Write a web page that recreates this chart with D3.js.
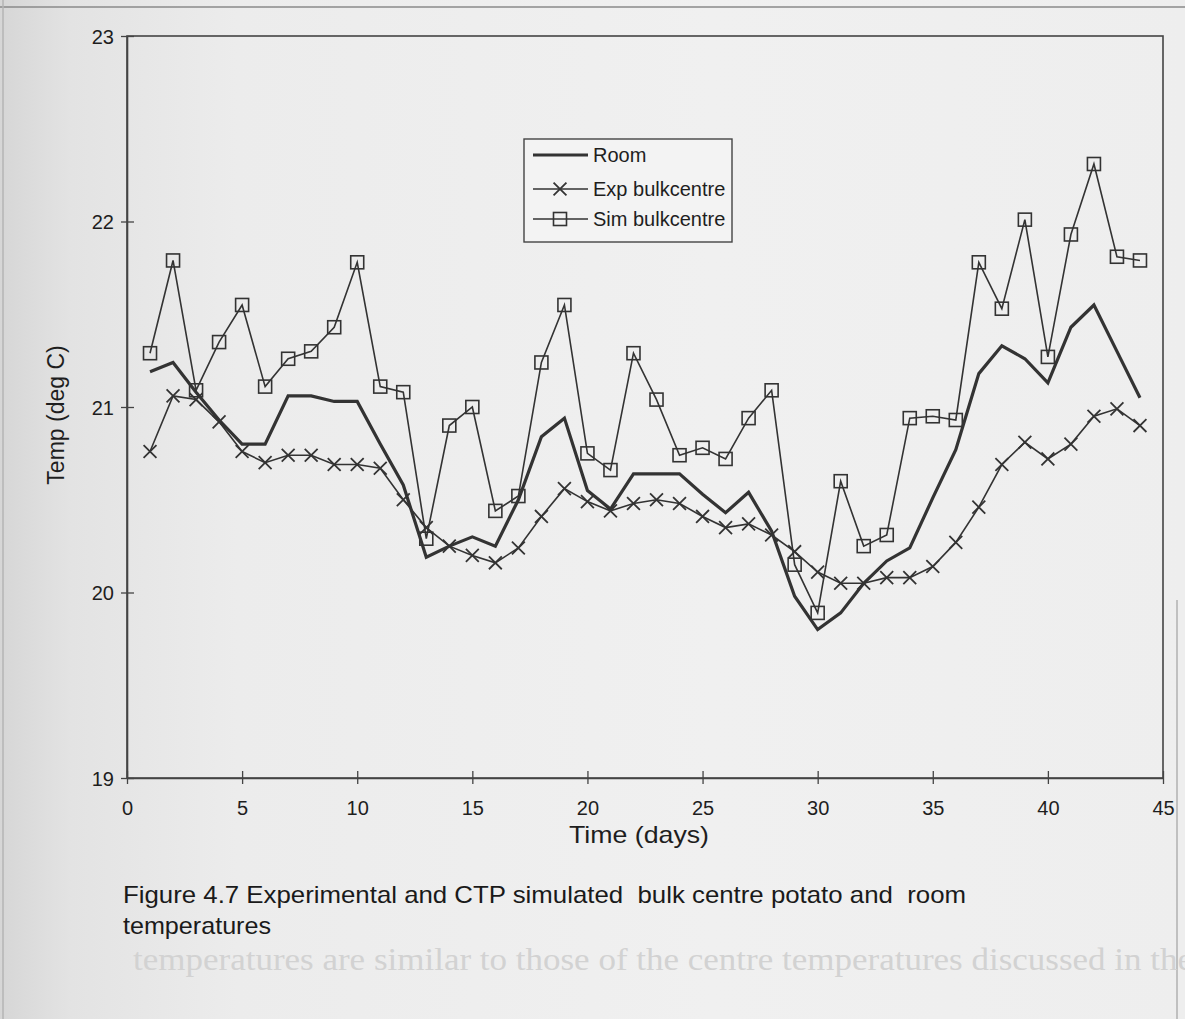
<!DOCTYPE html>
<html>
<head>
<meta charset="utf-8">
<script src="https://cdn.jsdelivr.net/npm/d3@7"></script>
<style>
  html, body { margin: 0; padding: 0; }
  body { width: 1185px; height: 1019px; overflow: hidden; background: #ececec; }
  svg { display: block; }
  text { font-family: "Liberation Sans", Arial, sans-serif; fill: #1e1e1e; }
</style>
</head>
<body>
<svg id="chart" width="1185" height="1019"></svg>
<script>
// Days of the storage trial
const days = [1,2,3,4,5,6,7,8,9,10,11,12,13,14,15,16,17,18,19,20,21,22,
              23,24,25,26,27,28,29,30,31,32,33,34,35,36,37,38,39,40,41,42,43,44];

// Room air temperature (deg C)
const roomTemp = [21.19,21.24,21.08,20.93,20.80,20.80,21.06,21.06,21.03,21.03,20.80,20.58,
                  20.19,20.25,20.30,20.25,20.50,20.84,20.94,20.55,20.45,20.64,20.64,20.64,
                  20.53,20.43,20.54,20.33,19.98,19.80,19.89,20.05,20.17,20.24,20.51,20.77,
                  21.18,21.33,21.26,21.13,21.43,21.55,21.30,21.05];

// Measured bulk centre potato temperature (deg C)
const expBulkCentre = [20.76,21.06,21.04,20.92,20.76,20.70,20.74,20.74,20.69,20.69,20.67,20.50,
                       20.35,20.25,20.20,20.16,20.24,20.41,20.56,20.49,20.44,20.48,20.50,20.48,
                       20.41,20.35,20.37,20.31,20.22,20.11,20.05,20.05,20.08,20.08,20.14,20.27,
                       20.46,20.69,20.81,20.72,20.80,20.95,20.99,20.90];

// CTP simulated bulk centre potato temperature (deg C)
const simBulkCentre = [21.29,21.79,21.09,21.35,21.55,21.11,21.26,21.30,21.43,21.78,21.11,21.08,
                       20.29,20.90,21.00,20.44,20.52,21.24,21.55,20.75,20.66,21.29,21.04,20.74,
                       20.78,20.72,20.94,21.09,20.15,19.89,20.60,20.25,20.31,20.94,20.95,20.93,
                       21.78,21.53,22.01,21.27,21.93,22.31,21.81,21.79];

const xTicks = [0,5,10,15,20,25,30,35,40,45];
const yTicks = [19,20,21,22,23];
const seriesNames = ["Room", "Exp bulkcentre", "Sim bulkcentre"];
const xTitle = "Time (days)";
const yTitle = "Temp (deg C)";
const captionLines = ["Figure 4.7 Experimental and CTP simulated  bulk centre potato and  room",
                      "temperatures"];
const bodyTextLine = "temperatures are similar to those of the centre temperatures discussed in the";

const svg = d3.select("#chart");
const W = 1185, H = 1019;
const plot = { left: 127, right: 1163, top: 36, bottom: 778 };
const ink = "#333";

// Paper background, slightly darker towards the binding edge
const defs = svg.append("defs");
const grad = defs.append("linearGradient").attr("id", "paper")
  .attr("x1", 0).attr("x2", 1).attr("y1", 0).attr("y2", 0);
[[0, "#d6d6d6"], [0.06, "#e3e3e3"], [0.2, "#ececec"], [0.6, "#f0f0f0"], [1, "#eeeeee"]]
  .forEach(([o, c]) => grad.append("stop").attr("offset", o).attr("stop-color", c));
svg.append("rect").attr("width", W).attr("height", H).attr("fill", "url(#paper)");

// Page edges
svg.append("line").attr("x1", 0).attr("x2", W).attr("y1", 7).attr("y2", 7)
  .attr("stroke", "#8a8a8a").attr("stroke-width", 1.5);
svg.append("line").attr("x1", 3).attr("x2", 3).attr("y1", 0).attr("y2", H)
  .attr("stroke", "#b5b5b5").attr("stroke-width", 1.5);
svg.append("line").attr("x1", 1177).attr("x2", 1177).attr("y1", 600).attr("y2", H)
  .attr("stroke", "#b0b0b0").attr("stroke-width", 1.5);

// Faint line of body text below the figure
svg.append("text")
  .attr("x", 133).attr("y", 970)
  .attr("textLength", 1060).attr("lengthAdjust", "spacingAndGlyphs")
  .style("font-family", "'Liberation Serif', 'DejaVu Serif', serif")
  .style("font-size", "32px")
  .style("fill", "#d2d2d2")
  .text(bodyTextLine);

// Scales
const x = d3.scaleLinear().domain([0, 45]).range([plot.left, plot.right]);
const y = d3.scaleLinear().domain([19, 23]).range([plot.bottom, plot.top]);

// Plot frame
svg.append("rect")
  .attr("x", plot.left).attr("y", plot.top)
  .attr("width", plot.right - plot.left).attr("height", plot.bottom - plot.top)
  .attr("fill", "none").attr("stroke", "#444").attr("stroke-width", 1.6);

// Axes: ticks straddle the axis line
const xAxis = svg.append("g").attr("transform", `translate(0,${plot.bottom})`)
  .call(d3.axisBottom(x).tickValues(xTicks).tickFormat(d3.format("d"))
        .tickSizeInner(0).tickSizeOuter(0).tickPadding(0));
xAxis.select(".domain").attr("stroke", "#444").attr("stroke-width", 1.6);
xAxis.selectAll(".tick line").attr("y1", -7).attr("y2", 6).attr("stroke", "#444").attr("stroke-width", 1.3);
xAxis.selectAll(".tick text").attr("y", 37).attr("dy", null)
  .style("font-size", "20px").style("fill", "#1e1e1e");

const yAxis = svg.append("g").attr("transform", `translate(${plot.left},0)`)
  .call(d3.axisLeft(y).tickValues(yTicks).tickFormat(d3.format("d"))
        .tickSizeInner(0).tickSizeOuter(0).tickPadding(0));
yAxis.select(".domain").attr("stroke", "#444").attr("stroke-width", 1.6);
yAxis.selectAll(".tick line").attr("x1", -6).attr("x2", 7).attr("stroke", "#444").attr("stroke-width", 1.3);
yAxis.selectAll(".tick text").attr("x", -13).attr("dy", "0.35em")
  .style("font-size", "20px").style("fill", "#1e1e1e");
yAxis.selectAll("text").attr("font-family", null);
xAxis.selectAll("text").attr("font-family", null);

// Axis titles
svg.append("text")
  .attr("x", 569).attr("y", 843)
  .attr("textLength", 140).attr("lengthAdjust", "spacingAndGlyphs")
  .style("font-size", "24px").text(xTitle);
svg.append("text")
  .attr("transform", `translate(64,${(plot.top + plot.bottom) / 2 + 8}) rotate(-90)`)
  .attr("text-anchor", "middle").style("font-size", "23px").text(yTitle);

// Caption
const captionWidths = [843, 148];
captionLines.forEach((t, i) => {
  svg.append("text").attr("x", 123).attr("y", 903 + i * 31)
    .attr("textLength", captionWidths[i]).attr("lengthAdjust", "spacingAndGlyphs")
    .style("font-size", "24px").style("fill", "#1a1a1a")
    .attr("xml:space", "preserve").style("white-space", "pre").text(t);
});

// Series
const line = d3.line().x(d => x(d[0])).y(d => y(d[1]));
const roomPts = days.map((d, i) => [d, roomTemp[i]]);
const expPts = days.map((d, i) => [d, expBulkCentre[i]]);
const simPts = days.map((d, i) => [d, simBulkCentre[i]]);

const g = svg.append("g");
g.append("path").datum(roomPts).attr("d", line)
  .attr("fill", "none").attr("stroke", ink).attr("stroke-width", 3.2).attr("stroke-linejoin", "miter");
g.append("path").datum(expPts).attr("d", line)
  .attr("fill", "none").attr("stroke", ink).attr("stroke-width", 1.6);
g.append("path").datum(simPts).attr("d", line)
  .attr("fill", "none").attr("stroke", ink).attr("stroke-width", 1.6);

const cross = d3.symbol().type(d3.symbolX).size(110);
g.selectAll("path.exp").data(expPts).join("path").attr("class", "exp")
  .attr("transform", d => `translate(${x(d[0])},${y(d[1])})`)
  .attr("d", cross).attr("fill", "none").attr("stroke", ink).attr("stroke-width", 1.8);

const sq = 13;
g.selectAll("rect.sim").data(simPts).join("rect").attr("class", "sim")
  .attr("x", d => x(d[0]) - sq / 2).attr("y", d => y(d[1]) - sq / 2)
  .attr("width", sq).attr("height", sq)
  .attr("fill", "none").attr("stroke", ink).attr("stroke-width", 1.6);

// Legend
const lg = svg.append("g").attr("transform", "translate(524,139)");
lg.append("rect").attr("width", 208).attr("height", 103)
  .attr("fill", "#f3f3f3").attr("stroke", "#444").attr("stroke-width", 1.4);
const rows = [16, 50, 80];
seriesNames.forEach((name, i) => {
  const row = lg.append("g").attr("transform", `translate(0,${rows[i]})`);
  row.append("line").attr("x1", 9).attr("x2", 64)
    .attr("stroke", ink).attr("stroke-width", i === 0 ? 3.2 : 1.6);
  if (i === 1) {
    row.append("path").attr("transform", "translate(36,0)").attr("d", cross)
      .attr("fill", "none").attr("stroke", ink).attr("stroke-width", 1.8);
  } else if (i === 2) {
    row.append("rect").attr("x", 36 - sq / 2).attr("y", -sq / 2).attr("width", sq).attr("height", sq)
      .attr("fill", "none").attr("stroke", ink).attr("stroke-width", 1.6);
  }
  row.append("text").attr("x", 69).attr("dy", "0.35em").style("font-size", "20px").text(name);
});
</script>
</body>
</html>
